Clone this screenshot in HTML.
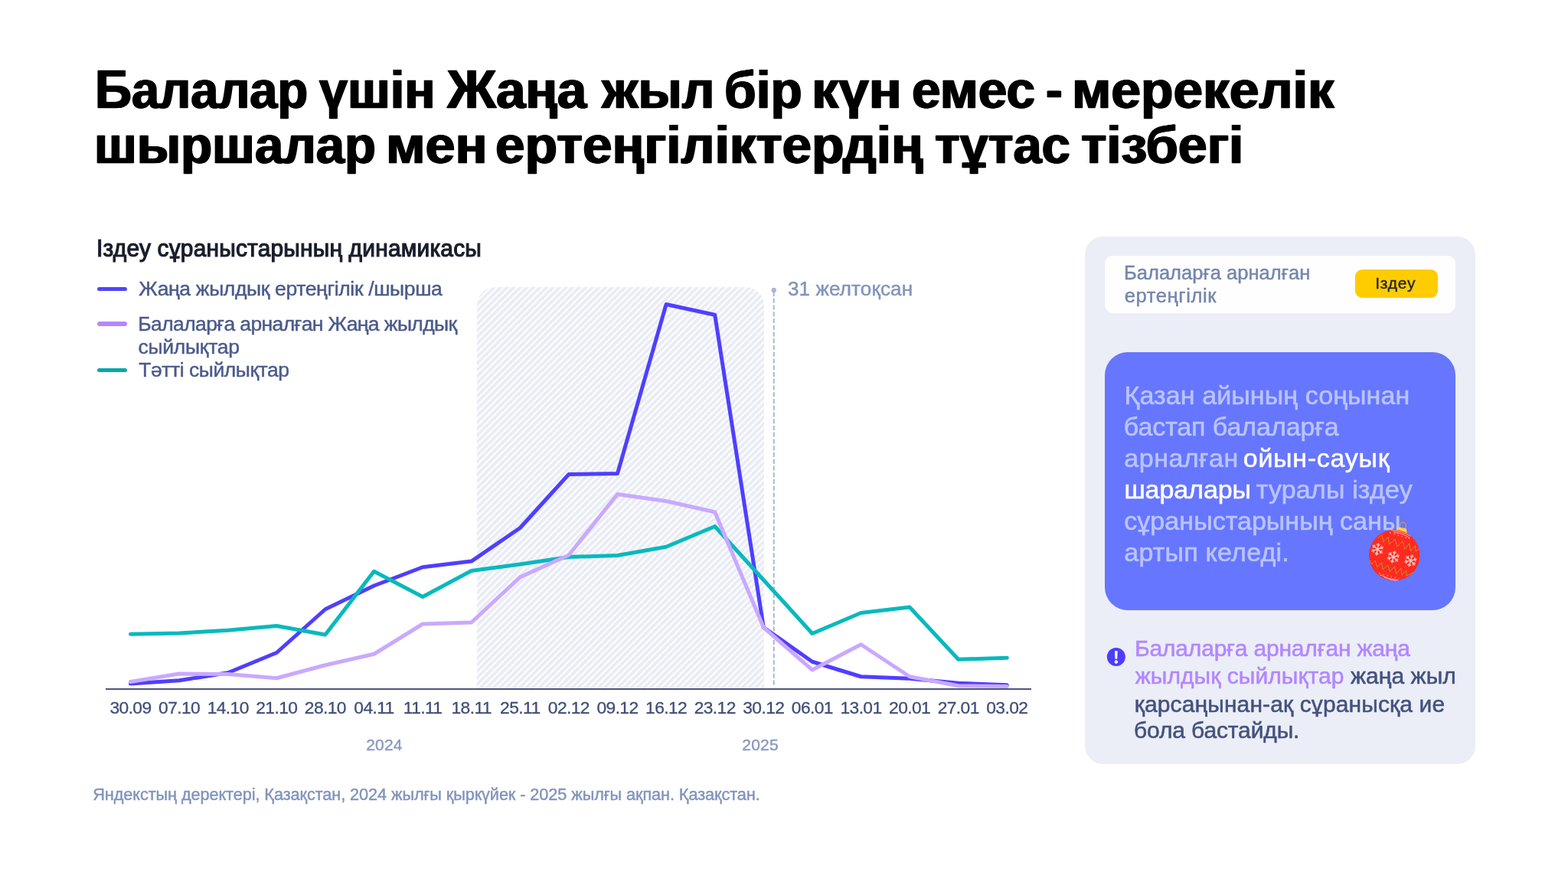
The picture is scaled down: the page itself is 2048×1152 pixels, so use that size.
<!DOCTYPE html>
<html lang="kk">
<head>
<meta charset="utf-8">
<title>Балалар үшін Жаңа жыл</title>
<style>
*{margin:0;padding:0;box-sizing:border-box}
html,body{width:2048px;height:1152px;background:#fff;overflow:hidden}
body{position:relative;font-family:"Liberation Sans", "DejaVu Sans", sans-serif;-webkit-font-smoothing:antialiased}
.t{position:absolute;white-space:nowrap;line-height:1;transform-origin:0 0;display:block;font-weight:400;-webkit-text-stroke-width:0.45px}
.w{color:#fff;-webkit-text-stroke:0.55px #fff}
.p{color:#b287ff}
.cap{font-size:1.03em;line-height:0}

.panel{position:absolute;left:1417.2px;top:309px;width:509.4px;height:689.3px;border-radius:24px;background:#ebeef6}
.search{position:absolute;left:1443px;top:333.5px;width:458px;height:75.5px;border-radius:11px;background:#fefeff}
.btnbox{position:absolute;left:1770px;top:352px;width:107.5px;height:37px;border-radius:9px;background:#ffcc00}
.card{position:absolute;left:1443px;top:459.5px;width:458px;height:337.2px;border-radius:30px;background:#6676ff}
.sw{position:absolute;left:127px;width:39px;height:5.6px;border-radius:3px}
svg{position:absolute;left:0;top:0;overflow:visible}
h1{font-size:68px;line-height:1;font-weight:700}
</style>
</head>
<body>
<header><h1><span class="t" style="top:83.39px;font-size:68px;font-weight:700;color:#000;left:123.66px;transform:scaleX(0.9529);-webkit-text-stroke:.3px #000;text-shadow:1.05px 0 0 #000,-1.05px 0 0 #000;"><span class="cap">Б</span>алалар</span> <span class="t" style="top:83.39px;font-size:68px;font-weight:700;color:#000;left:416.99px;transform:scaleX(0.9818);-webkit-text-stroke:.3px #000;text-shadow:1.05px 0 0 #000,-1.05px 0 0 #000;">үшін</span> <span class="t" style="top:83.39px;font-size:68px;font-weight:700;color:#000;left:583.77px;transform:scaleX(1.0123);-webkit-text-stroke:.3px #000;text-shadow:1.05px 0 0 #000,-1.05px 0 0 #000;"><span class="cap">Ж</span>аңа</span> <span class="t" style="top:83.39px;font-size:68px;font-weight:700;color:#000;left:785.73px;transform:scaleX(0.9864);-webkit-text-stroke:.3px #000;text-shadow:1.05px 0 0 #000,-1.05px 0 0 #000;">жыл</span> <span class="t" style="top:83.39px;font-size:68px;font-weight:700;color:#000;left:945.52px;transform:scaleX(0.9924);-webkit-text-stroke:.3px #000;text-shadow:1.05px 0 0 #000,-1.05px 0 0 #000;">бір</span> <span class="t" style="top:83.39px;font-size:68px;font-weight:700;color:#000;left:1059.84px;transform:scaleX(1.0427);-webkit-text-stroke:.3px #000;text-shadow:1.05px 0 0 #000,-1.05px 0 0 #000;">күн</span> <span class="t" style="top:83.39px;font-size:68px;font-weight:700;color:#000;left:1191.01px;transform:scaleX(0.9953);-webkit-text-stroke:.3px #000;text-shadow:1.05px 0 0 #000,-1.05px 0 0 #000;">емес</span> <span class="t" style="top:83.39px;font-size:68px;font-weight:700;color:#000;left:1366.06px;transform:scaleX(0.9615);-webkit-text-stroke:.3px #000;text-shadow:1.05px 0 0 #000,-1.05px 0 0 #000;">-</span> <span class="t" style="top:83.39px;font-size:68px;font-weight:700;color:#000;left:1399.92px;transform:scaleX(1.0218);-webkit-text-stroke:.3px #000;text-shadow:1.05px 0 0 #000,-1.05px 0 0 #000;">мерекелік</span><br><span class="t" style="top:155.34px;font-size:68px;font-weight:700;color:#000;left:122.55px;transform:scaleX(0.9857);-webkit-text-stroke:.3px #000;text-shadow:1.05px 0 0 #000,-1.05px 0 0 #000;">шыршалар</span> <span class="t" style="top:155.34px;font-size:68px;font-weight:700;color:#000;left:503.65px;transform:scaleX(1.0267);-webkit-text-stroke:.3px #000;text-shadow:1.05px 0 0 #000,-1.05px 0 0 #000;">мен</span> <span class="t" style="top:155.34px;font-size:68px;font-weight:700;color:#000;left:647.22px;transform:scaleX(1.0197);-webkit-text-stroke:.3px #000;text-shadow:1.05px 0 0 #000,-1.05px 0 0 #000;">ертеңгіліктердің</span> <span class="t" style="top:155.34px;font-size:68px;font-weight:700;color:#000;left:1220.51px;transform:scaleX(0.9818);-webkit-text-stroke:.3px #000;text-shadow:1.05px 0 0 #000,-1.05px 0 0 #000;">тұтас</span> <span class="t" style="top:155.34px;font-size:68px;font-weight:700;color:#000;left:1411.75px;transform:scaleX(1.0036);-webkit-text-stroke:.3px #000;text-shadow:1.05px 0 0 #000,-1.05px 0 0 #000;">тізбегі</span></h1></header>
<section class="chart">
<h2 class="t" style="top:309.39px;font-size:31.2px;color:#1a1e2c;left:125.54px;transform:scaleX(0.9593);-webkit-text-stroke:1.2px #1a1e2c;letter-spacing:0.2px;">Іздеу сұраныстарының динамикасы</h2>
<i class="sw" style="top:374.6px;background:#4f46f7"></i><div class="t" style="top:363.82px;font-size:26.5px;color:#4a5a8a;left:181.25px;letter-spacing:-0.348px;">Жаңа жылдық ертеңгілік /шырша</div>
<i class="sw" style="top:420px;background:#b388ff"></i><div class="t" style="top:409.57px;font-size:26.5px;color:#4a5a8a;left:180.30px;letter-spacing:-0.605px;">Балаларға арналған Жаңа жылдық</div><div class="t" style="top:440.07px;font-size:26.5px;color:#4a5a8a;left:180.50px;letter-spacing:-0.250px;">сыйлықтар</div>
<i class="sw" style="top:480.7px;background:#0aa8a8"></i><div class="t" style="top:469.57px;font-size:26.5px;color:#4a5a8a;left:181.25px;letter-spacing:-0.446px;">Тәтті сыйлықтар</div>
<svg width="2048" height="1152" viewBox="0 0 2048 1152">
<defs>
<pattern id="hatch" width="6.05" height="6.05" patternUnits="userSpaceOnUse" patternTransform="rotate(-45)">
<rect width="6.05" height="6.05" fill="#fdfdff"/>
<rect y="0" width="6.05" height="3.7" fill="#e9ecf4"/>
</pattern>
</defs>
<path d="M623 899V399a24 24 0 0 1 24-24H974a24 24 0 0 1 24 24V899Z" fill="url(#hatch)"/>
<line x1="1010.75" y1="381" x2="1010.75" y2="897" stroke="#a9b6d5" stroke-width="2" stroke-dasharray="6.1 2.65"/>
<circle cx="1010.75" cy="379" r="3.2" fill="#a9b6d5"/>
<polyline points="170.50,893.00 234.10,888.75 297.70,878.75 361.30,852.50 424.90,795.75 488.50,765.00 552.10,740.75 615.70,733.10 679.30,689.50 742.90,619.50 806.50,618.50 870.10,397.50 933.70,411.25 997.30,819.50 1060.90,864.25 1124.50,883.75 1188.10,886.25 1251.70,892.30 1315.30,894.80" fill="none" stroke="#4f3fff" stroke-width="5" stroke-linejoin="round" stroke-linecap="round"/>
<polyline points="170.50,828.25 234.10,827.00 297.70,823.25 361.30,817.50 424.90,829.00 488.50,746.25 552.10,779.50 615.70,745.50 679.30,737.00 742.90,727.50 806.50,725.50 870.10,714.25 933.70,687.50 997.30,757.50 1060.90,827.50 1124.50,800.50 1188.10,793.00 1251.70,861.25 1315.30,859.25" fill="none" stroke="#08b9bd" stroke-width="5" stroke-linejoin="round" stroke-linecap="round"/>
<polyline points="170.50,890.50 234.10,880.00 297.70,880.50 361.30,885.75 424.90,868.75 488.50,854.25 552.10,815.00 615.70,813.00 679.30,753.75 742.90,725.00 806.50,645.50 870.10,654.50 933.70,668.75 997.30,819.50 1060.90,875.00 1124.50,841.75 1188.10,883.75 1251.70,895.80 1315.30,896.50" fill="none" stroke="#c9a9ff" stroke-width="5" stroke-linejoin="round" stroke-linecap="round"/>
<rect x="138" y="899" width="1209" height="2" fill="#4c5582"/>
</svg>
<div class="t" style="top:363.59px;font-size:26px;color:#8294bb;left:1028.95px;letter-spacing:0.141px;">31 желтоқсан</div>
<div class="t" style="left:130.50px;width:80px;text-align:center;top:913.00px;font-size:22.8px;letter-spacing:-0.6px;-webkit-text-stroke-width:.3px;color:#414d77">30.09</div>
<div class="t" style="left:194.10px;width:80px;text-align:center;top:913.00px;font-size:22.8px;letter-spacing:-0.6px;-webkit-text-stroke-width:.3px;color:#414d77">07.10</div>
<div class="t" style="left:257.70px;width:80px;text-align:center;top:913.00px;font-size:22.8px;letter-spacing:-0.6px;-webkit-text-stroke-width:.3px;color:#414d77">14.10</div>
<div class="t" style="left:321.30px;width:80px;text-align:center;top:913.00px;font-size:22.8px;letter-spacing:-0.6px;-webkit-text-stroke-width:.3px;color:#414d77">21.10</div>
<div class="t" style="left:384.90px;width:80px;text-align:center;top:913.00px;font-size:22.8px;letter-spacing:-0.6px;-webkit-text-stroke-width:.3px;color:#414d77">28.10</div>
<div class="t" style="left:448.50px;width:80px;text-align:center;top:913.00px;font-size:22.8px;letter-spacing:-0.6px;-webkit-text-stroke-width:.3px;color:#414d77">04.11</div>
<div class="t" style="left:512.10px;width:80px;text-align:center;top:913.00px;font-size:22.8px;letter-spacing:-0.6px;-webkit-text-stroke-width:.3px;color:#414d77">11.11</div>
<div class="t" style="left:575.70px;width:80px;text-align:center;top:913.00px;font-size:22.8px;letter-spacing:-0.6px;-webkit-text-stroke-width:.3px;color:#414d77">18.11</div>
<div class="t" style="left:639.30px;width:80px;text-align:center;top:913.00px;font-size:22.8px;letter-spacing:-0.6px;-webkit-text-stroke-width:.3px;color:#414d77">25.11</div>
<div class="t" style="left:702.90px;width:80px;text-align:center;top:913.00px;font-size:22.8px;letter-spacing:-0.6px;-webkit-text-stroke-width:.3px;color:#414d77">02.12</div>
<div class="t" style="left:766.50px;width:80px;text-align:center;top:913.00px;font-size:22.8px;letter-spacing:-0.6px;-webkit-text-stroke-width:.3px;color:#414d77">09.12</div>
<div class="t" style="left:830.10px;width:80px;text-align:center;top:913.00px;font-size:22.8px;letter-spacing:-0.6px;-webkit-text-stroke-width:.3px;color:#414d77">16.12</div>
<div class="t" style="left:893.70px;width:80px;text-align:center;top:913.00px;font-size:22.8px;letter-spacing:-0.6px;-webkit-text-stroke-width:.3px;color:#414d77">23.12</div>
<div class="t" style="left:957.30px;width:80px;text-align:center;top:913.00px;font-size:22.8px;letter-spacing:-0.6px;-webkit-text-stroke-width:.3px;color:#414d77">30.12</div>
<div class="t" style="left:1020.90px;width:80px;text-align:center;top:913.00px;font-size:22.8px;letter-spacing:-0.6px;-webkit-text-stroke-width:.3px;color:#414d77">06.01</div>
<div class="t" style="left:1084.50px;width:80px;text-align:center;top:913.00px;font-size:22.8px;letter-spacing:-0.6px;-webkit-text-stroke-width:.3px;color:#414d77">13.01</div>
<div class="t" style="left:1148.10px;width:80px;text-align:center;top:913.00px;font-size:22.8px;letter-spacing:-0.6px;-webkit-text-stroke-width:.3px;color:#414d77">20.01</div>
<div class="t" style="left:1211.70px;width:80px;text-align:center;top:913.00px;font-size:22.8px;letter-spacing:-0.6px;-webkit-text-stroke-width:.3px;color:#414d77">27.01</div>
<div class="t" style="left:1275.30px;width:80px;text-align:center;top:913.00px;font-size:22.8px;letter-spacing:-0.6px;-webkit-text-stroke-width:.3px;color:#414d77">03.02</div>
<div class="t" style="top:961.52px;font-size:21px;color:#8c98c0;left:478.25px;letter-spacing:0.167px;">2024</div>
<div class="t" style="top:961.52px;font-size:21px;color:#8c98c0;left:969.25px;letter-spacing:0.250px;">2025</div>
<p class="t" style="top:1026.93px;font-size:21.7px;color:#8294bb;left:121.25px;letter-spacing:-0.077px;">Яндекстың деректері, Қазақстан, 2024 жылғы қыркүйек - 2025 жылғы ақпан. Қазақстан.</p>
</section>
<aside class="panel-wrap"><div class="panel"></div><div class="search"></div>
<div class="t" style="top:344.01px;font-size:25.5px;color:#7586ad;left:1468.00px;letter-spacing:0.029px;">Балаларға арналған</div><div class="t" style="top:374.01px;font-size:25.5px;color:#7586ad;left:1468.75px;letter-spacing:0.611px;">ертеңгілік</div>
<div class="btnbox"></div><div class="t" style="top:359.12px;font-size:21px;color:#1f2432;left:1796.25px;letter-spacing:0.750px;">Іздеу</div>
<div class="card"></div>
<p>
<span class="t" style="top:498.92px;font-size:34px;color:#b9c4ff;left:1468.50px;letter-spacing:0.103px;-webkit-text-stroke-width:.6px;">Қазан айының соңынан</span>
<span class="t" style="top:540.02px;font-size:34px;color:#b9c4ff;left:1467.75px;letter-spacing:-0.067px;-webkit-text-stroke-width:.6px;">бастап балаларға</span>
<span class="t" style="top:581.42px;font-size:34px;color:#b9c4ff;left:1468.35px;letter-spacing:0.486px;-webkit-text-stroke-width:.6px;">арналған</span> <span class="t" style="top:581.42px;font-size:34px;color:#b9c4ff;left:1623.75px;letter-spacing:0.722px;"><span class="w">ойын-сауық</span></span>
<span class="t" style="top:622.42px;font-size:34px;color:#b9c4ff;left:1468.40px;letter-spacing:-0.071px;"><span class="w">шаралары</span></span> <span class="t" style="top:622.42px;font-size:34px;color:#b9c4ff;left:1640.75px;letter-spacing:0.182px;-webkit-text-stroke-width:.6px;">туралы іздеу</span>
<span class="t" style="top:663.22px;font-size:34px;color:#b9c4ff;left:1468.25px;letter-spacing:0.058px;-webkit-text-stroke-width:.6px;">сұраныстарының саны</span>
<span class="t" style="top:704.42px;font-size:34px;color:#b9c4ff;left:1468.25px;letter-spacing:0.229px;-webkit-text-stroke-width:.6px;">артып келеді.</span>
</p>
<svg width="2048" height="1152" viewBox="0 0 2048 1152">
<g transform="translate(1821.2 725.2)">
<circle cx="11.1" cy="-38.7" r="4.1" fill="none" stroke="#cf9c38" stroke-width="1.3"/>
<path d="M1.5 -31 L5.4 -36.7 L15.7 -34.8 L16.7 -27 Z" fill="#ffd24a"/>
<circle r="33.2" fill="#ff2b20"/>
<path d="M-21.7 -22.1l5.2 -4.8l2.2 9.5l6.1 -6.5l1.7 9.5l7.4 -6.5l3 9.5l7 -6.9l2.6 10.4l6.1 -7.4l1.7 9.5l6.1 -6.9l.4 7.4l4.3 -2.6" fill="none" stroke="#c0952c" stroke-width=".95"/>
<path d="M-32.5 6.1l3 5.6l4.3 -4.8l3 8.7l5.6 -6.1l1.7 9.1l6.5 -6.1l2.6 9.1l6.1 -6.9l2.2 9.5l6.1 -6.9l1.3 8.7l5.6 -6.5l.4 7.4l8.7 -4.3" fill="none" stroke="#c0952c" stroke-width=".95"/>
<g opacity=".85">
<g transform="translate(-22.1 -7.9) rotate(10)" stroke="#ffe3e0" stroke-linecap="round" fill="none"><path d="M0 -7.6V7.6M-6.6 -3.8L6.6 3.8M-6.6 3.8L6.6 -3.8" stroke-width="1.5"/><path d="M0 -4.6l-1.9 -1.6M0 -4.6l1.9 -1.6M0 4.6l-1.9 1.6M0 4.6l1.9 1.6M-4 -2.3l-2.4 .8M-4 -2.3l-.5 -2.5M4 2.3l2.4 -.8M4 2.3l.5 2.5M-4 2.3l-2.4 -.8M-4 2.3l-.5 2.5M4 -2.3l2.4 .8M4 -2.3l.5 -2.5" stroke-width="1.3"/></g>
<g transform="translate(-1.3 2.3) rotate(14)" stroke="#ffe3e0" stroke-linecap="round" fill="none"><path d="M0 -7.6V7.6M-6.6 -3.8L6.6 3.8M-6.6 3.8L6.6 -3.8" stroke-width="1.5"/><path d="M0 -4.6l-1.9 -1.6M0 -4.6l1.9 -1.6M0 4.6l-1.9 1.6M0 4.6l1.9 1.6M-4 -2.3l-2.4 .8M-4 -2.3l-.5 -2.5M4 2.3l2.4 -.8M4 2.3l.5 2.5M-4 2.3l-2.4 -.8M-4 2.3l-.5 2.5M4 -2.3l2.4 .8M4 -2.3l.5 -2.5" stroke-width="1.3"/></g>
<g transform="translate(21.3 7) rotate(16)" stroke="#ffe3e0" stroke-linecap="round" fill="none"><path d="M0 -7.6V7.6M-6.6 -3.8L6.6 3.8M-6.6 3.8L6.6 -3.8" stroke-width="1.5"/><path d="M0 -4.6l-1.9 -1.6M0 -4.6l1.9 -1.6M0 4.6l-1.9 1.6M0 4.6l1.9 1.6M-4 -2.3l-2.4 .8M-4 -2.3l-.5 -2.5M4 2.3l2.4 -.8M4 2.3l.5 2.5M-4 2.3l-2.4 -.8M-4 2.3l-.5 2.5M4 -2.3l2.4 .8M4 -2.3l.5 -2.5" stroke-width="1.3"/></g>
</g>
<path d="M-4 -32.6Q12 -31 21 -25M-1 -30Q12 -28.5 20 -22.5" fill="none" stroke="#ffd0cc" stroke-width=".8"/>
<path d="M-6 -29.5Q8 -25 20 -21.5" fill="none" stroke="#ffd0cc" stroke-width="1.2" stroke-dasharray="1.2 4"/>
<path d="M-19 25.5Q-6 32 5 32.5M-14 28.5Q-5 32.5 2 33" fill="none" stroke="#ffd0cc" stroke-width=".8"/>
<path d="M-20 23.5Q-6 27 6 30.5" fill="none" stroke="#ffd0cc" stroke-width="1.2" stroke-dasharray="1.2 4"/>
</g>
<g transform="translate(1457.85 857.95)">
<circle r="12" fill="#4d3dff"/>
<path d="M-1.9 -7.6h3.8l-.6 10.3h-2.6z" fill="#fff"/>
<circle cy="6.6" r="2.2" fill="#fff"/>
</g>
</svg>
<div class="t" style="top:832.21px;font-size:30px;color:#44527e;left:1482.05px;letter-spacing:-0.195px;-webkit-text-stroke-width:.55px;"><span class="p">Балаларға арналған жаңа</span></div>
<div class="t" style="top:868.36px;font-size:30px;color:#44527e;left:1482.75px;letter-spacing:0.052px;-webkit-text-stroke-width:.55px;"><span class="p">жылдық сыйлықтар</span> жаңа жыл</div>
<div class="t" style="top:904.61px;font-size:30px;color:#44527e;left:1481.75px;letter-spacing:0.120px;-webkit-text-stroke-width:.55px;">қарсаңынан-ақ сұранысқа ие</div>
<div class="t" style="top:939.11px;font-size:30px;color:#44527e;left:1481.00px;letter-spacing:-0.135px;-webkit-text-stroke-width:.55px;">бола бастайды.</div>
</aside>
</body>
</html>
